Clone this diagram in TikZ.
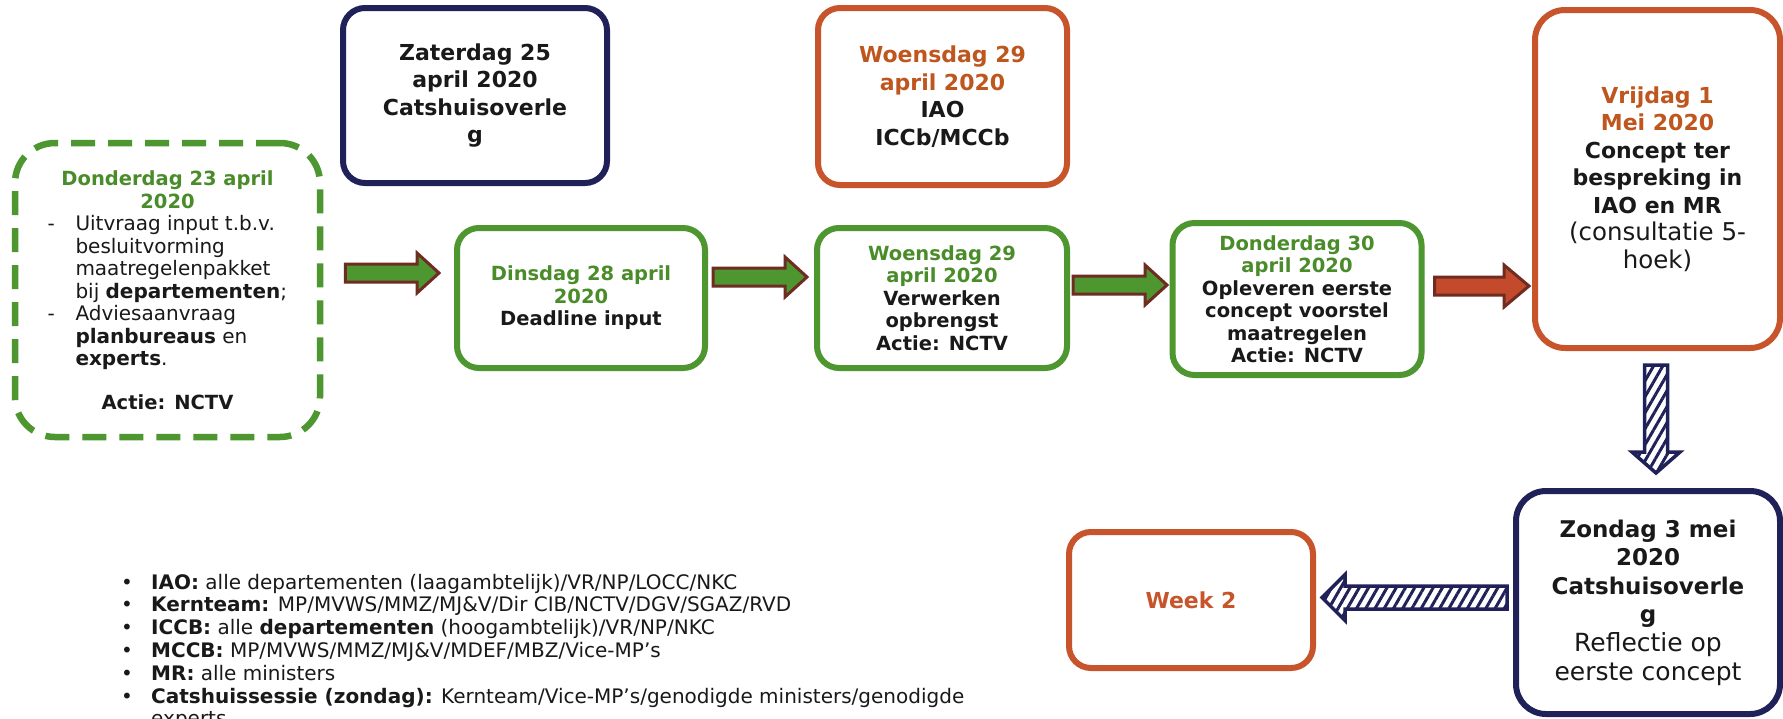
\documentclass[tikz,border=0pt]{standalone}
\usepackage{fontspec}
\setmainfont{DejaVu Sans}
\usetikzlibrary{calc,patterns.meta}
\definecolor{grn}{RGB}{78,150,48}
\definecolor{gtxt}{RGB}{74,140,42}
\definecolor{navy}{RGB}{32,33,88}
\definecolor{org}{RGB}{200,84,44}
\definecolor{otxt}{RGB}{190,86,30}
\definecolor{brn}{RGB}{110,44,34}
\definecolor{redf}{RGB}{196,74,44}
\definecolor{txt}{RGB}{25,25,25}
\newcommand\harrow[6]{%
 \path[#6] let \p1=(#1), \p2=(#2) in
 (\x1,{\y1+#4}) -- ({\x2-#3},{\y1+#4}) -- ({\x2-#3},{\y1+#5}) -- (\x2,\y1) -- ({\x2-#3},{\y1-#5}) -- ({\x2-#3},{\y1-#4}) -- (\x1,{\y1-#4}) -- cycle;}
\newcommand\varrow[6]{%
 \path[#6] let \p1=(#1), \p2=(#2) in
 ({\x1-#4},\y1) -- ({\x1-#4},{\y2+#3}) -- ({\x1-#5},{\y2+#3}) -- (\x1,\y2) -- ({\x1+#5},{\y2+#3}) -- ({\x1+#4},{\y2+#3}) -- ({\x1+#4},\y1) -- cycle;}
\newcommand\regl[1]{{\fontsize{25}{28.6}\selectfont\mdseries #1}}
\newcommand\regm[1]{{\fontsize{24.5}{27.5}\selectfont\mdseries #1}}
\begin{document}
\begin{tikzpicture}[x=1pt,y=-1pt,
  box/.style={rounded corners=22pt, line width=6pt, fill=white, align=center, inner sep=0pt, text=txt},
  gbox/.style={box, draw=grn},
  nbox/.style={box, draw=navy},
  obox/.style={box, draw=org},
  fs/.style={font=\fontsize{19.5}{22.5}\selectfont\bfseries},
  fl/.style={font=\fontsize{22}{27.5}\selectfont\bfseries},
  fz/.style={font=\fontsize{23}{28.6}\selectfont\bfseries},
  garrow/.style={fill=grn, draw=brn, line width=3pt},
  rarrow/.style={fill=redf, draw=brn, line width=3pt},
  harrowst/.style={draw=navy, line width=3.5pt, pattern={Lines[angle=60,distance=8pt,line width=3pt]}, pattern color=navy},
]
\useasboundingbox (0,0) rectangle (1783,718);
\fill[white] (0,0) rectangle (1783,718);

% start box (dashed)
\node[draw=grn, line width=6.5pt, dash pattern=on 24pt off 13pt, rounded corners=40pt,
      minimum width=305pt, minimum height=294pt, inner sep=0pt, text=txt] (box1) at (167.5,290)
 {\begin{minipage}{240pt}\fontsize{20}{22.5}\selectfont
  {\centering\bfseries\fontsize{19.5}{22.5}\selectfont\color{gtxt}Donderdag 23 april\\2020\par}
  \makebox[28pt][l]{-}Uitvraag input t.b.v.\par
  \hspace*{28pt}besluitvorming\par
  \hspace*{28pt}maatregelenpakket\par
  \hspace*{28pt}bij \textbf{departementen};\par
  \makebox[28pt][l]{-}Adviesaanvraag\par
  \hspace*{28pt}\textbf{planbureaus} en\par
  \hspace*{28pt}\textbf{experts}.\par
  \vspace{21pt}
  {\centering\bfseries\fontsize{19.5}{22.5}\selectfont Actie: NCTV\par}
 \end{minipage}};

\node[nbox, fl, minimum width=264pt, minimum height=175pt] (sat) at (475,95.5)
 {Zaterdag 25\\april 2020\\Catshuisoverle\\g};

\node[obox, fl, minimum width=249pt, minimum height=177pt] (woeo) at (942.5,96.5)
 {\textcolor{otxt}{Woensdag 29}\\\textcolor{otxt}{april 2020}\\IAO\\ICCb/MCCb};

\node[gbox, fs, minimum width=248pt, minimum height=140pt] (din) at (581,298)
 {\textcolor{gtxt}{Dinsdag 28 april}\\\textcolor{gtxt}{2020}\\Deadline input};

\node[gbox, fs, minimum width=250pt, minimum height=140pt] (woeg) at (942,298)
 {\textcolor{gtxt}{Woensdag 29}\\\textcolor{gtxt}{april 2020}\\Verwerken\\opbrengst\\Actie: NCTV};

\node[gbox, fs, minimum width=249pt, minimum height=152pt] (don) at (1297,299)
 {\textcolor{gtxt}{Donderdag 30}\\\textcolor{gtxt}{april 2020}\\Opleveren eerste\\concept voorstel\\maatregelen\\Actie: NCTV};

\node[obox, fl, rounded corners=30pt, minimum width=245pt, minimum height=338pt] (vrij) at (1657.5,179)
 {\textcolor{otxt}{Vrijdag 1}\\\textcolor{otxt}{Mei 2020}\\Concept ter\\bespreking in\\IAO en MR\\\regm{(consultatie 5-}\\\regm{hoek)}};

\node[nbox, fz, rounded corners=30pt, minimum width=264pt, minimum height=223pt] (zon) at (1648,602.5)
 {Zondag 3 mei\\2020\\Catshuisoverle\\g\\\regl{Reflectie op}\\\regl{eerste concept}};

\node[obox, fl, minimum width=244pt, minimum height=136pt] (week) at (1191,600)
 {\textcolor{org}{Week 2}};

% connectors
\harrow{$(box1.east)+(22,-17)$}{$(din.west)+(-15,0)$}{22pt}{9pt}{20pt}{garrow}
\harrow{$(din.east)+(5,-21)$}{$(woeg.west)+(-7,0)$}{22pt}{9pt}{20pt}{garrow}
\harrow{$(woeg.east)+(3,-13)$}{$(don.west)+(-2.5,0)$}{22pt}{9pt}{20pt}{garrow}
\harrow{$(don.east)+(10,-13)$}{$(vrij.west)+(-3,0)$}{25pt}{9pt}{21pt}{rarrow}
\varrow{$(vrij.south)+(-1.5,14)$}{$(zon.north)+(0,-15)$}{21pt}{11.5pt}{24pt}{harrowst}
\harrow{$(zon.west)+(-6,-5)$}{$(week.east)+(6,0)$}{(-23pt)}{11.5pt}{23pt}{harrowst}

% legend
\node[anchor=base west, inner sep=0pt, font=\fontsize{20}{22.8}\selectfont, text=txt] (legend) at (121,589)
 {\renewcommand\arraystretch{1}\begin{tabular}[t]{@{}p{30pt}@{}l@{}}
  • & \textbf{IAO:} alle departementen (laagambtelijk)/VR/NP/LOCC/NKC\\
  • & \textbf{Kernteam:} MP/MVWS/MMZ/MJ\&V/Dir CIB/NCTV/DGV/SGAZ/RVD\\
  • & \textbf{ICCB:} alle \textbf{departementen} (hoogambtelijk)/VR/NP/NKC\\
  • & \textbf{MCCB:} MP/MVWS/MMZ/MJ\&V/MDEF/MBZ/Vice-MP’s\\
  • & \textbf{MR:} alle ministers\\
  • & \textbf{Catshuissessie (zondag):} Kernteam/Vice-MP’s/genodigde ministers/genodigde\\
    & experts
 \end{tabular}};
\end{tikzpicture}
\end{document}
